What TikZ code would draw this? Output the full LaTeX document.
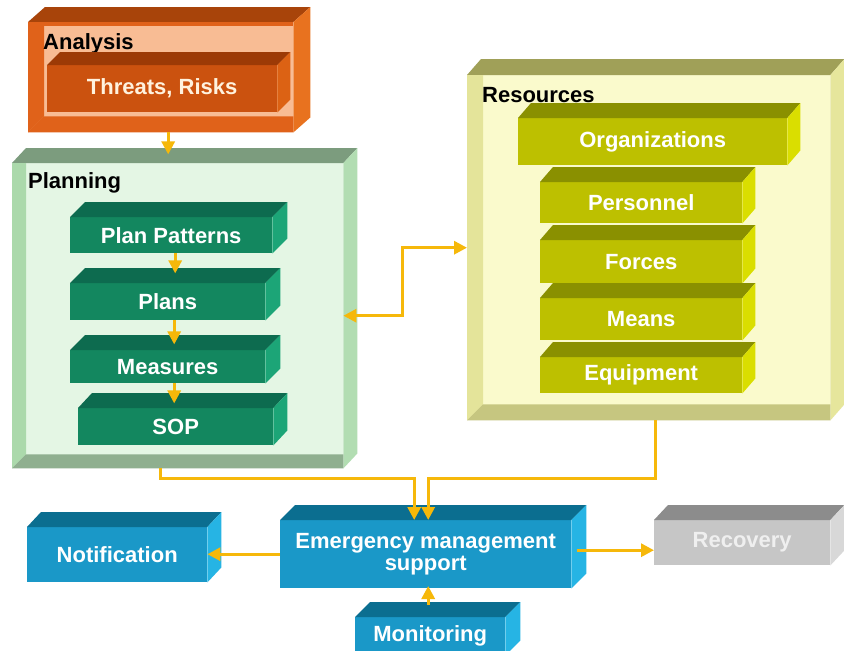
\documentclass[tikz,border=0pt]{standalone}
\usepackage{fontspec}
\setmainfont{Liberation Sans}
\usetikzlibrary{calc,arrows.meta}
\definecolor{anaTop}{HTML}{A8440A}
\definecolor{anaSide}{HTML}{E8721F}
\definecolor{anaIn}{HTML}{F8BC94}
\definecolor{anaFrame}{HTML}{E0621A}
\definecolor{anaBoxT}{HTML}{9C3A06}
\definecolor{anaBoxF}{HTML}{CB520F}
\definecolor{anaBoxS}{HTML}{DC6214}
\definecolor{plaTop}{HTML}{7C9C7E}
\definecolor{plaSide}{HTML}{B2DDB2}
\definecolor{plaIn}{HTML}{E4F6E4}
\definecolor{plaLeft}{HTML}{ABD9AB}
\definecolor{plaBottom}{HTML}{8FAF8F}
\definecolor{plaBoxT}{HTML}{0D6B4F}
\definecolor{plaBoxF}{HTML}{13875F}
\definecolor{plaBoxS}{HTML}{1CA577}
\definecolor{resTop}{HTML}{A0A058}
\definecolor{resSide}{HTML}{E6E69C}
\definecolor{resIn}{HTML}{FAFACC}
\definecolor{resLeft}{HTML}{E4E49A}
\definecolor{resBottom}{HTML}{C6C680}
\definecolor{resBoxT}{HTML}{8A9000}
\definecolor{resBoxF}{HTML}{BDC000}
\definecolor{resBoxS}{HTML}{DADE00}
\definecolor{bluT}{HTML}{0B6E90}
\definecolor{bluF}{HTML}{1A98C8}
\definecolor{bluS}{HTML}{26B4E4}
\definecolor{gryT}{HTML}{8C8C8C}
\definecolor{gryF}{HTML}{C6C6C6}
\definecolor{gryS}{HTML}{D8D8D8}
\definecolor{arrowc}{HTML}{F6B80A}
\definecolor{cream}{HTML}{FFF2DE}

% front face node: name, x1, y1, x2, y2, fill, text options, text
\newcommand\cube[8]{%
  \pgfmathsetmacro\cw{#4-#2}\pgfmathsetmacro\ch{#5-#3}%
  \node[inner sep=0pt, minimum width=\cw pt, minimum height=\ch pt, fill=#6,
        anchor=north west, lbl, #7] (#1) at (#2,#3) {#8};%
}
% top and right faces: name, dx, dy, top colour, side colour
\newcommand\boxfaces[5]{%
  \fill[#4] (#1.north west) -- ++(#2,-#3) -- ($(#1.north east)+(#2,-#3)$) -- (#1.north east) -- cycle;%
  \fill[#5] (#1.north east) -- ++(#2,-#3) -- ($(#1.south east)+(#2,-#3)$) -- (#1.south east) -- cycle;%
}
% inner left and bottom bands of a tray: name, band, left colour, bottom colour
\newcommand\tray[4]{%
  \fill[#3] (#1.north west) -- ++(#2,0) -- ($(#1.south west)+(#2,-#2)$) -- (#1.south west) -- cycle;%
  \fill[#4] (#1.south west) -- ($(#1.south west)+(#2,-#2)$) -- ($(#1.south east)+(0,-#2)$) -- (#1.south east) -- cycle;%
}

\begin{document}
\begin{tikzpicture}[x=1pt,y=-1pt,
  lbl/.style={font=\fontsize{22}{22}\selectfont\bfseries, text=white, align=center},
  ttl/.style={font=\fontsize{22}{22}\selectfont\bfseries, text=black, anchor=west, inner sep=0pt},
  arr/.style={draw=arrowc, line width=3pt},
  >={Triangle[length=13pt,width=13pt]}]
\useasboundingbox (0,0) rectangle (844,651);
\clip (0,0) rectangle (844,651);
\fill[white] (0,0) rectangle (844,651);

% ---------- Analysis ----------
\cube{ana}{28}{22}{293}{132}{anaIn}{}{}
\boxfaces{ana}{17}{15}{anaTop}{anaSide}
\tray{ana}{16}{anaFrame}{anaFrame}
\fill[anaFrame] (ana.north west) rectangle ($(ana.north east)+(0,4)$);
\node[ttl] (anat) at (43,44) {Analysis};
\cube{thr}{47}{65}{277}{112}{anaBoxF}{text=cream}{Threats, Risks}
\boxfaces{thr}{13}{13}{anaBoxT}{anaBoxS}

% ---------- Planning ----------
\cube{pla}{12}{163}{343}{468}{plaIn}{}{}
\boxfaces{pla}{14}{15}{plaTop}{plaSide}
\tray{pla}{14}{plaLeft}{plaBottom}
\node[ttl] (plat) at (28,183) {Planning};
\cube{pp}{70}{217}{272}{253}{plaBoxF}{}{Plan Patterns}
\boxfaces{pp}{15}{15}{plaBoxT}{plaBoxS}
\cube{pl}{70}{283}{265}{320}{plaBoxF}{}{Plans}
\boxfaces{pl}{15}{15}{plaBoxT}{plaBoxS}
\cube{me}{70}{350}{265}{383}{plaBoxF}{}{Measures}
\boxfaces{me}{15}{15}{plaBoxT}{plaBoxS}
\cube{sop}{78}{408}{273}{445}{plaBoxF}{}{SOP}
\boxfaces{sop}{14}{15}{plaBoxT}{plaBoxS}

% ---------- Resources ----------
\cube{res}{467}{75}{830}{420}{resIn}{}{}
\boxfaces{res}{14}{16}{resTop}{resSide}
\tray{res}{16}{resLeft}{resBottom}
\node[ttl] (rest) at (482,95) {Resources};
\cube{org}{518}{118}{787}{165}{resBoxF}{}{Organizations}
\boxfaces{org}{13}{15}{resBoxT}{resBoxS}
\cube{per}{540}{182}{742}{223}{resBoxF}{}{Personnel}
\boxfaces{per}{13}{15}{resBoxT}{resBoxS}
\cube{for}{540}{240}{742}{283}{resBoxF}{}{Forces}
\boxfaces{for}{13}{15}{resBoxT}{resBoxS}
\cube{mea}{540}{298}{742}{340}{resBoxF}{}{Means}
\boxfaces{mea}{13}{15}{resBoxT}{resBoxS}
\cube{equ}{540}{357}{742}{393}{resBoxF}{}{Equipment}
\boxfaces{equ}{13}{15}{resBoxT}{resBoxS}

% ---------- bottom row ----------
\cube{ems}{280}{520}{571}{588}{bluF}{}{Emergency management\\support}
\boxfaces{ems}{15}{15}{bluT}{bluS}
\cube{noti}{27}{527}{207}{582}{bluF}{}{Notification}
\boxfaces{noti}{14}{15}{bluT}{bluS}
\cube{rec}{654}{520}{830}{565}{gryF}{text=gryS!40!white}{Recovery}
\boxfaces{rec}{14}{15}{gryT}{gryS}
\cube{mon}{355}{617}{505}{655}{bluF}{}{Monitoring}
\boxfaces{mon}{15}{15}{bluT}{bluS}

% ---------- connectors ----------
\draw[arr,->] ([xshift=7.5pt]ana.south) -- ++(0,22);
\draw[arr,->] ([xshift=4pt]pp.south) -- ++(0,20);
\draw[arr,->] ([xshift=6.5pt]pl.south) -- ++(0,24);
\draw[arr,->] ([xshift=6.5pt]me.south) -- ++(0,20);
\draw[arr,<->] (pla.east) -- ++(59,0) |- (res.west);
\draw[arr,->] ([xshift=-17.5pt]pla.south) -- ++(0,10) -| ([xshift=-11.5pt]ems.north);
\draw[arr,->] ([xshift=6.5pt]res.south) -- ++(0,58) -| ([xshift=2.5pt]ems.north);
\draw[arr,->] (ems.west) -- (ems.west -| noti.east);
\coordinate (e1) at ($(ems.east)+(6,-4)$);
\draw[arr,->] (e1) -- (e1 -| rec.west);
\draw[arr,->] ($(mon.north)+(-2,-12)$) -- ($(mon.north)+(-2,-31)$);
\end{tikzpicture}
\end{document}
